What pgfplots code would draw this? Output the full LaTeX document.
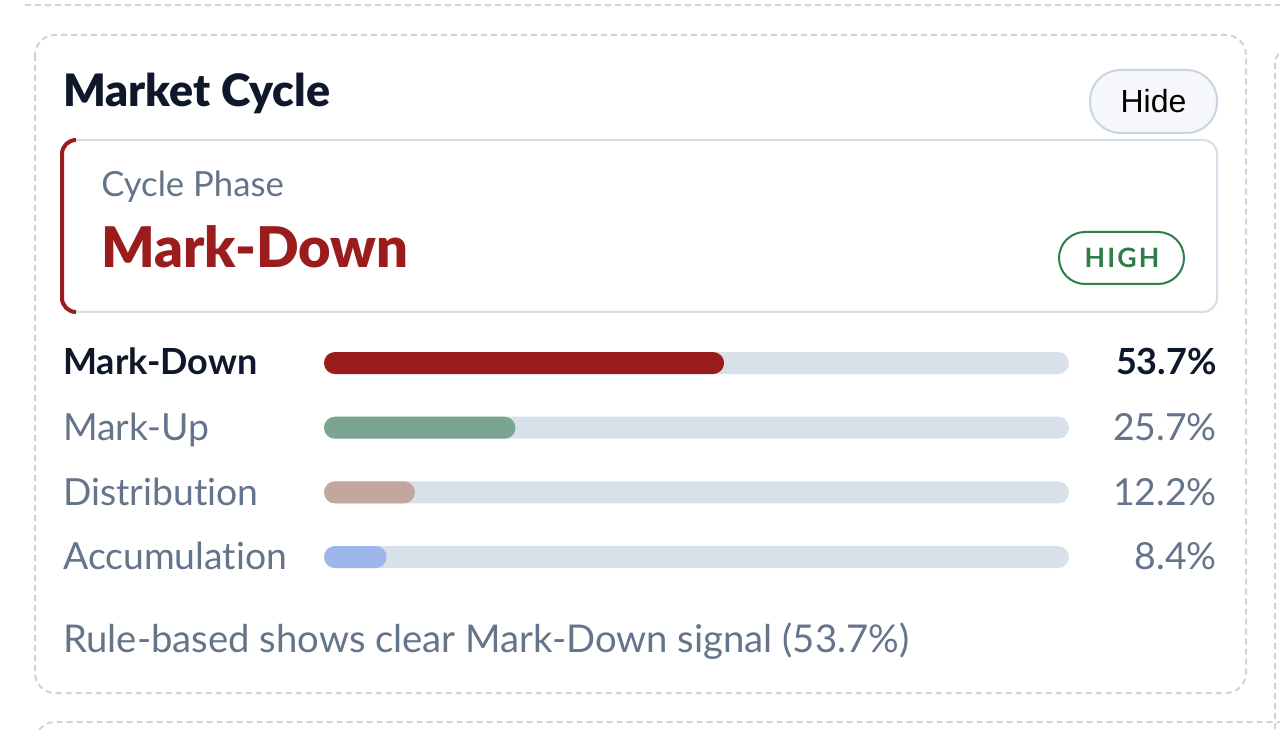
\documentclass[border=0pt]{standalone}
\usepackage{fontspec}
\setmainfont{Lato}[Ligatures=NoCommon]
\newfontfamily\arialfont{Liberation Sans}
\newfontfamily\blackfont{Lato Black}[Ligatures=NoCommon]
\usepackage{pgfplots}
\pgfplotsset{compat=1.18}
\definecolor{cdark}{HTML}{0F172A}
\definecolor{cgray}{HTML}{64748B}
\definecolor{cred}{HTML}{9B1C1C}
\definecolor{cbadge}{HTML}{2F7D4A}
\definecolor{cgreen}{HTML}{7BA591}
\definecolor{cbrown}{HTML}{C1A79D}
\definecolor{cblue}{HTML}{9DB7EA}
\definecolor{ctrack}{HTML}{D8E1E9}
\definecolor{cdash}{HTML}{CBD5E1}
\definecolor{cbox}{HTML}{D5DEE8}
\definecolor{cbtn}{HTML}{F5F7FA}
\begin{document}
\begin{tikzpicture}[x=0.75pt,y=0.75pt]
\path[use as bounding box, fill=white] (0,0) rectangle (1280,729);
% dashed card borders
\tikzset{dashb/.style={draw=cdash, line width=1.5pt, dash pattern=on 4.5pt off 3pt}}
\draw[dashb] (25,724) -- (1280,724);
\draw[dashb, rounded corners=15pt] (35,694) rectangle (1246,36);
\draw[dashb, rounded corners=15pt] (1275,0) -- (1275,684) -- (1300,684);
\draw[dashb, rounded corners=15pt] (35,-30) -- (35,7) -- (1290,7);
% title
\node[anchor=base west, inner sep=0pt, text=cdark, font=\fontsize{33.5}{38}\blackfont] at (63,622) {Market Cycle};
% hide button
\draw[draw=cdash, fill=cbtn, line width=1.5pt, rounded corners=23pt] (1090,659) rectangle (1217,596);
\node[inner sep=0pt, text=black, font=\fontsize{24}{28}\arialfont] at (1153.5,627.5) {Hide};
% inner box
\draw[draw=cbox, line width=1.5pt, rounded corners=10.5pt] (62,589) rectangle (1217,417);
\draw[cred, line width=3pt] (76,589) arc[start angle=90,end angle=180,radius=10.5pt] -- (62,431) arc[start angle=180,end angle=270,radius=10.5pt];
\node[anchor=base west, inner sep=0pt, text=cgray, font=\fontsize{26}{30}\selectfont] at (101,532) {Cycle Phase};
\node[anchor=base west, inner sep=0pt, text=cred, font=\fontsize{42}{48}\blackfont] at (101,461) {Mark-Down};
\draw[draw=cbadge, line width=1.5pt, rounded corners=19.5pt] (1059,497) rectangle (1184,445);
\node[inner sep=0pt, text=cbadge, font=\fontsize{20}{24}\selectfont\bfseries\addfontfeature{LetterSpace=8}] at (1122,471) {HIGH};
% bars
\coordinate (A) at (324,398.3);
\begin{axis}[at={(A)}, anchor=north west, scale only axis,
  width=558.75pt, height=194pt, hide axis, clip=false,
  xmin=0, xmax=100, ymin=-0.5, ymax=3.5, y dir=reverse,
  xbar, bar width=16.5pt, bar shift=0pt,
  every axis plot/.append style={draw=none, rounded corners=8.25pt}]
\addplot[fill=ctrack] coordinates {(100,0) (100,1) (100,2) (100,3)};
\addplot[fill=cred] coordinates {(53.7,0)};
\addplot[fill=cgreen] coordinates {(25.7,1)};
\addplot[fill=cbrown] coordinates {(12.2,2)};
\addplot[fill=cblue] coordinates {(8.4,3)};
\end{axis}
% labels
\tikzset{lab/.style={inner sep=0pt, font=\fontsize{28}{32}\selectfont}}
\node[lab, anchor=base west, text=cdark, font=\fontsize{27}{32}\selectfont\bfseries] at (63,354) {Mark-Down};
\node[lab, anchor=base west, text=cgray] at (63,289) {Mark-Up};
\node[lab, anchor=base west, text=cgray] at (63,224) {Distribution};
\node[lab, anchor=base west, text=cgray] at (63,160) {Accumulation};
\node[lab, anchor=base east, text=cdark, font=\fontsize{27}{32}\selectfont\bfseries] at (1217,354) {53.7\%};
\node[lab, anchor=base east, text=cgray] at (1217,289) {25.7\%};
\node[lab, anchor=base east, text=cgray] at (1217,224) {12.2\%};
\node[lab, anchor=base east, text=cgray] at (1217,160) {8.4\%};
\node[lab, anchor=base west, text=cgray, font=\fontsize{28.7}{33}\selectfont] at (63,77) {Rule-based shows clear Mark-Down signal (53.7\%)};
\end{tikzpicture}
\end{document}
